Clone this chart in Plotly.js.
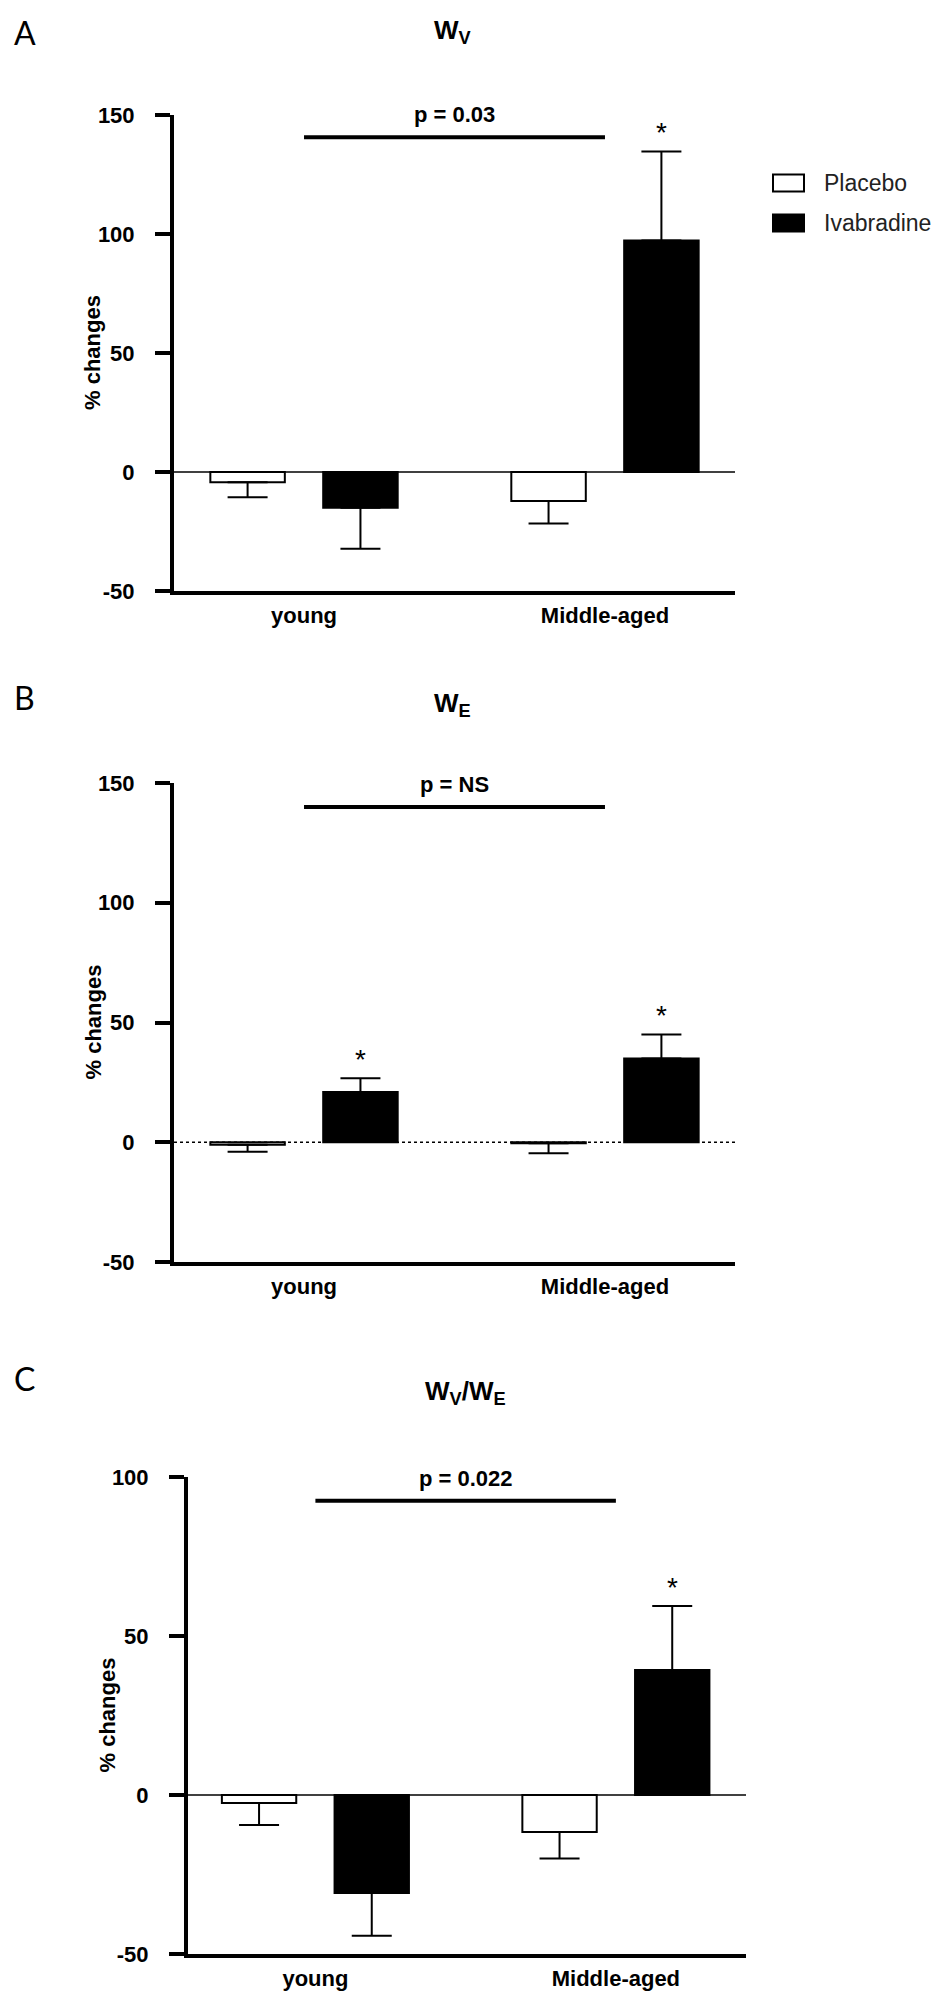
<!DOCTYPE html>
<html><head><meta charset="utf-8">
<script src="https://cdn.plot.ly/plotly-3.0.1.min.js"></script>
<style>html,body{margin:0;padding:0;background:#fff}#chart{width:941px;height:1995px}</style>
</head><body><div id="chart"></div>
<script>
// ---------- data ----------
const categories = ['young', 'Middle-aged'];
const seriesNames = ['Placebo', 'Ivabradine'];
// Panel A: W_V
const wvPlacebo = [-4.3, -12.2];
const wvPlaceboErr = [6.3, 9.4];
const wvIvabradine = [-15.0, 97.3];
const wvIvabradineErr = [17.2, 37.4];
// Panel B: W_E
const wePlacebo = [-1.0, -0.4];
const wePlaceboErr = [3.0, 4.2];
const weIvabradine = [21.0, 35.0];
const weIvabradineErr = [5.7, 10.0];
// Panel C: W_V/W_E
const ratioPlacebo = [-2.5, -11.6];
const ratioPlaceboErr = [6.9, 8.4];
const ratioIvabradine = [-30.8, 39.3];
const ratioIvabradineErr = [13.5, 20.1];
// annotations
const panelLetters = ['A', 'B', 'C'];
const panelTitles = ['W<sub>V</sub>', 'W<sub>E</sub>', 'W<sub>V</sub>/W<sub>E</sub>'];
const pValues = ['p = 0.03', 'p = NS', 'p = 0.022'];
const sigLevels = [140.6, 140, 92.5];
const ivabStars = [[false, true], [true, true], [false, true]];
const yTicksAB = [-50, 0, 50, 100, 150];
const yTicksC = [-50, 0, 50, 100];
const yTitle = '% changes';

// ---------- geometry (pixels in the 941x1995 page) ----------
const W = 941, H = 1995;
const FONT = 'Liberation Sans, Arial, Helvetica, sans-serif';
const BARGAP = 0.25, BARGROUPGAP = 0.34;
const panels = [
  {pl: wvPlacebo, ple: wvPlaceboErr, iv: wvIvabradine, ive: wvIvabradineErr,
   box: {l: 174, r: 735, t: 115, b: 591}, yr: [-50, 150], ticks: yTicksAB, xr: [-0.432, 1.432],
   zeroDash: 'solid', letterY: 33, titleY: 32, ytitleX: 93},
  {pl: wePlacebo, ple: wePlaceboErr, iv: weIvabradine, ive: weIvabradineErr,
   box: {l: 174, r: 735, t: 783, b: 1262}, yr: [-50, 150], ticks: yTicksAB, xr: [-0.432, 1.432],
   zeroDash: 'dot', letterY: 697, titleY: 705, ytitleX: 93},
  {pl: ratioPlacebo, ple: ratioPlaceboErr, iv: ratioIvabradine, ive: ratioIvabradineErr,
   box: {l: 188, r: 746, t: 1477, b: 1954}, yr: [-50, 100], ticks: yTicksC, xr: [-0.424, 1.433],
   zeroDash: 'solid', letterY: 1378, titleY: 1392, ytitleX: 107}
];
const px = x => x / W;
const py = y => 1 - y / H;

function errArrays(vals, errs) {
  return {
    type: 'data', symmetric: false,
    array: vals.map((v, i) => v >= 0 ? errs[i] : 0),
    arrayminus: vals.map((v, i) => v < 0 ? errs[i] : 0),
    color: '#000', thickness: 2, width: 20
  };
}

const data = [];
const layout = {
  width: W, height: H, margin: {l: 0, r: 0, t: 0, b: 0},
  paper_bgcolor: '#fff', plot_bgcolor: '#fff',
  showlegend: false, barmode: 'group', bargap: BARGAP, bargroupgap: BARGROUPGAP,
  font: {family: FONT, color: '#000'},
  shapes: [], annotations: []
};

panels.forEach((p, k) => {
  const n = k === 0 ? '' : String(k + 1);
  const xa = 'x' + n, ya = 'y' + n;
  data.push({
    type: 'bar', name: seriesNames[0], x: categories, y: p.pl, xaxis: xa, yaxis: ya,
    marker: {color: '#fff', line: {color: '#000', width: 2}},
    error_y: errArrays(p.pl, p.ple), hoverinfo: 'skip'
  });
  data.push({
    type: 'bar', name: seriesNames[1], x: categories, y: p.iv, xaxis: xa, yaxis: ya,
    marker: {color: '#000', line: {color: '#000', width: 2}},
    error_y: errArrays(p.iv, p.ive), hoverinfo: 'skip'
  });
  layout['xaxis' + n] = {
    domain: [px(p.box.l), px(p.box.r)], range: p.xr, anchor: ya, type: 'category',
    showline: true, linewidth: 4, linecolor: '#000', ticks: '', showgrid: false, zeroline: false,
    tickfont: {family: FONT, size: 22, weight: 'bold', color: '#000'}, ticklabelstandoff: 2,
    fixedrange: true
  };
  layout['yaxis' + n] = {
    domain: [py(p.box.b), py(p.box.t)], range: p.yr, anchor: xa,
    tickvals: p.ticks, ticktext: p.ticks.map(String),
    showline: true, linewidth: 4, linecolor: '#000', ticks: 'outside', ticklen: 15, tickwidth: 4,
    tickcolor: '#000', showgrid: false, zeroline: false,
    tickfont: {family: FONT, size: 22, weight: 'bold', color: '#000'}, ticklabelstandoff: 16,
    fixedrange: true
  };
  // zero line
  layout.shapes.push({type: 'line', xref: xa + ' domain', yref: ya, x0: 0, x1: 1, y0: 0, y1: 0,
    line: {color: '#000', width: 1.5, dash: p.zeroDash}, layer: 'below'});
  // significance bar between groups
  layout.shapes.push({type: 'line', xref: xa, yref: ya, x0: 0, x1: 1, y0: sigLevels[k], y1: sigLevels[k],
    line: {color: '#000', width: 4}});
  layout.annotations.push({xref: xa, yref: ya, x: 0.5, y: sigLevels[k], text: pValues[k],
    showarrow: false, yanchor: 'bottom', yshift: 8,
    font: {family: FONT, size: 22, weight: 'bold', color: '#000'}});
  // asterisks above Ivabradine bars
  const pxPerCat = (p.box.r - p.box.l) / (p.xr[1] - p.xr[0]);
  const offset = pxPerCat * (1 - BARGAP) / 4;
  ivabStars[k].forEach((s, i) => {
    if (!s) return;
    const v = p.iv[i], e = p.ive[i];
    layout.annotations.push({xref: xa, yref: ya, x: categories[i], y: v + e, xshift: offset,
      text: '*', showarrow: false, yanchor: 'bottom', yshift: 1,
      font: {family: FONT, size: 28, color: '#000'}});
  });
  // panel letter
  layout.annotations.push({xref: 'paper', yref: 'paper', x: px(12), y: py(p.letterY), xanchor: 'left',
    yanchor: 'middle', text: panelLetters[k], showarrow: false,
    font: {family: 'Lato, Open Sans, sans-serif', size: 32, color: '#000'}});
  // panel title
  layout.annotations.push({xref: 'paper', yref: 'paper', x: px((p.box.l + p.box.r) / 2 - 2), y: py(p.titleY),
    xanchor: 'center', yanchor: 'middle', text: panelTitles[k], showarrow: false,
    font: {family: FONT, size: 26, weight: 'bold', color: '#000'}});
  // y axis title
  layout.annotations.push({xref: 'paper', yref: 'paper', x: px(p.ytitleX), y: py((p.box.t + p.box.b) / 2),
    xanchor: 'center', yanchor: 'middle', textangle: -90, text: yTitle, showarrow: false,
    font: {family: FONT, size: 22, weight: 'bold', color: '#000'}});
});

// legend (panel A)
const legendRows = [{y: 183, fill: '#fff'}, {y: 223, fill: '#000'}];
legendRows.forEach((r, i) => {
  layout.shapes.push({type: 'rect', xref: 'paper', yref: 'paper', x0: px(773), x1: px(804),
    y0: py(r.y - 8.5), y1: py(r.y + 8.5), fillcolor: r.fill, line: {color: '#000', width: 2}});
  layout.annotations.push({xref: 'paper', yref: 'paper', x: px(822), y: py(r.y), xanchor: 'left',
    yanchor: 'middle', text: seriesNames[i], showarrow: false,
    font: {family: FONT, size: 23, color: '#222'}});
});

Plotly.newPlot('chart', data, layout, {displayModeBar: false, staticPlot: true});
</script>
</body></html>
